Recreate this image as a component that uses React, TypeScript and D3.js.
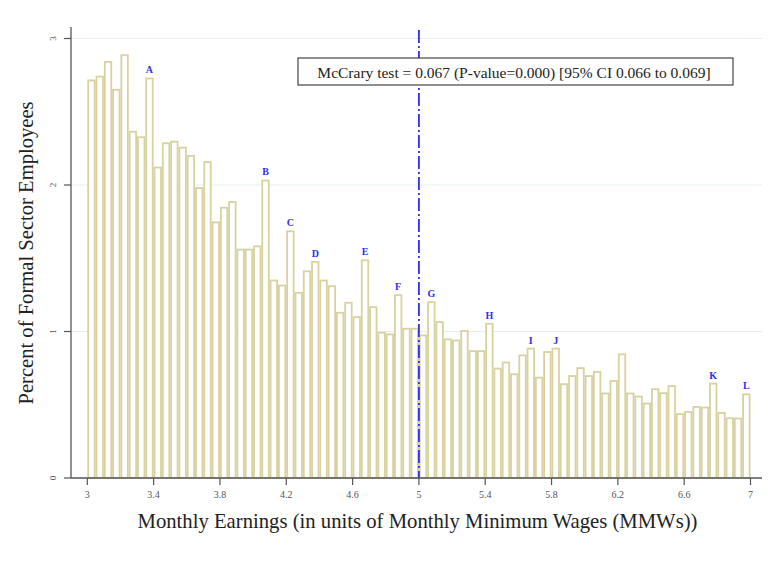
import React from "react";
import * as d3 from "d3";

const binStart = 3;
const binWidth = 0.05;
const percents: number[] = [
  2.714, 2.74, 2.84, 2.65, 2.886, 2.364, 2.326, 2.727, 2.119, 2.285,
  2.296, 2.255, 2.199, 1.979, 2.156, 1.745, 1.845, 1.884, 1.559, 1.559,
  1.581, 2.031, 1.348, 1.314, 1.684, 1.264, 1.411, 1.475, 1.348, 1.309,
  1.128, 1.196, 1.098, 1.486, 1.166, 0.992, 0.98, 1.248, 1.019, 1.019,
  0.973, 1.2, 1.064, 0.946, 0.939, 1.003, 0.866, 0.866, 1.053, 0.747,
  0.788, 0.708, 0.837, 0.883, 0.685, 0.86, 0.883, 0.64, 0.696, 0.75,
  0.696, 0.724, 0.577, 0.662, 0.844, 0.577, 0.556, 0.508, 0.606, 0.579,
  0.628, 0.436, 0.451, 0.485, 0.481, 0.644, 0.444, 0.408, 0.406, 0.571,
];
const markerLetters = ["A", "B", "C", "D", "E", "F", "G", "H", "I", "J", "K", "L"];
const markerBins = [7, 21, 24, 27, 33, 37, 41, 48, 53, 56, 75, 79];
const xTicks = [3, 3.4, 3.8, 4.2, 4.6, 5, 5.4, 5.8, 6.2, 6.6, 7];
const yTicks = [0, 1, 2, 3];
const cutoff = 5;
const annotation = "McCrary test = 0.067 (P-value=0.000) [95% CI 0.066 to 0.069]";
const xTitle = "Monthly Earnings (in units of Monthly Minimum Wages (MMWs))";
const yTitle = "Percent of Formal Sector Employees";

export default function App() {
  const W = 773, H = 577;
  const x = d3.scaleLinear().domain([3, 7]).range([87.3, 750.5]);
  const y = d3.scaleLinear().domain([0, 3]).range([478, 38.5]);
  const axisX = 71;
  const axisY = 478;
  const font = "'Liberation Serif', 'Times New Roman', serif";
  const barColor = "#d8d1a0";
  const blue = "#2f2ff0";

  return (
    <svg width={W} height={H} style={{ position: "absolute", left: 0, top: 0, background: "#fff" }} fontFamily={font}>
      {yTicks.filter((t) => t > 0).map((t) => (
        <line key={"g" + t} x1={axisX} x2={762} y1={y(t)} y2={y(t)} stroke="#e6eeee" strokeWidth={1.2} />
      ))}
      {percents.map((v, i) => {
        const x0 = x(binStart + i * binWidth);
        const x1 = x(binStart + (i + 1) * binWidth);
        return (
          <rect key={"b" + i} x={x0 + 0.9} y={y(v)} width={x1 - x0 - 1.8} height={y(0) - y(v)}
            fill="#fff" stroke={barColor} strokeWidth={1.8} />
        );
      })}
      <line x1={x(cutoff)} x2={x(cutoff)} y1={30} y2={axisY} stroke={blue} strokeWidth={1.8} strokeDasharray="13,3,2,3" />
      {markerLetters.map((l, k) => {
        const i = markerBins[k];
        const cx = x(binStart + (i + 0.5) * binWidth);
        return (
          <text key={"m" + l} x={cx} y={y(percents[i]) - 5} textAnchor="middle" fontSize={10} fill={blue} fontWeight="bold">{l}</text>
        );
      })}
      <line x1={axisX} x2={axisX} y1={27} y2={axisY} stroke="#555" strokeWidth={1.3} />
      <line x1={axisX} x2={762} y1={axisY} y2={axisY} stroke="#555" strokeWidth={1.3} />
      {yTicks.map((t) => (
        <g key={"yt" + t}>
          <line x1={axisX - 7} x2={axisX} y1={y(t)} y2={y(t)} stroke="#555" strokeWidth={1.2} />
          <text transform={`translate(${axisX - 15},${y(t)}) rotate(-90)`} textAnchor="middle" fontSize={9} fill="#555">{t}</text>
        </g>
      ))}
      {xTicks.map((t) => (
        <g key={"xt" + t}>
          <line x1={x(t)} x2={x(t)} y1={axisY} y2={axisY + 7} stroke="#555" strokeWidth={1.2} />
          <text x={x(t)} y={axisY + 20} textAnchor="middle" fontSize={10} fill="#555">{t}</text>
        </g>
      ))}
      <text x={417.5} y={528} textAnchor="middle" fontSize={20.7} fill="#222">{xTitle}</text>
      <text transform={`translate(33,${253}) rotate(-90)`} textAnchor="middle" fontSize={20.6} fill="#222">{yTitle}</text>
      <rect x={298} y={58} width={435} height={27} fill="#fff" stroke="#333" strokeWidth={1.1} />
      <text x={514} y={77.5} textAnchor="middle" fontSize={15.5} fill="#222">{annotation}</text>
    </svg>
  );
}
